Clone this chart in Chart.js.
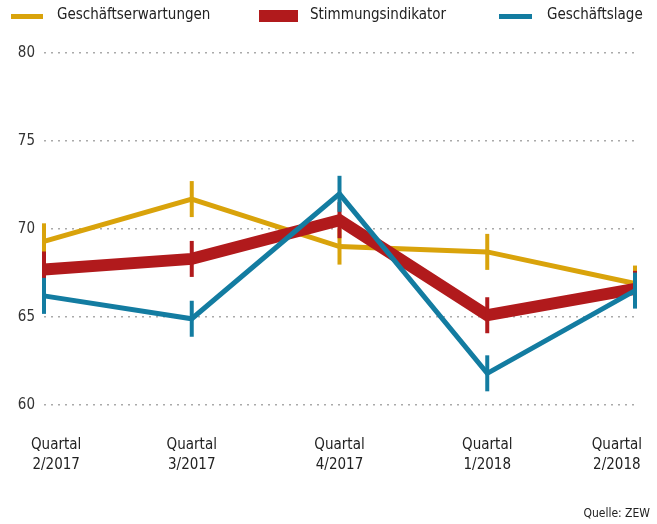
<!DOCTYPE html>
<html>
<head>
<meta charset="utf-8">
<script src="https://cdn.jsdelivr.net/npm/chart.js@4.4.1/dist/chart.umd.min.js"></script>
<style>
  body { margin: 0; background: #fff; font-family: "Liberation Sans Narrow", "DejaVu Sans Condensed", sans-serif; color: #222; }
  #wrap { position: relative; width: 657px; height: 524px; }
  .sw { position: absolute; }
  .lt { position: absolute; top: 5px; font-size: 15px; line-height: 18px; white-space: nowrap; }
  #src { position: absolute; right: 7px; top: 506px; font-size: 12px; }
</style>
</head>
<body>
<div id="wrap">
  <canvas id="zewChart" width="657" height="524"></canvas>
  <div id="legend"></div>
  <div id="src">Quelle: ZEW</div>
</div>
<script>
const FONT = '"Liberation Sans Narrow", "DejaVu Sans Condensed", sans-serif';

// data
const quarters = ["2/2017", "3/2017", "4/2017", "1/2018", "2/2018"];
const erwartungen = [69.3, 71.7, 69.0, 68.7, 66.9];
const stimmung = [67.7, 68.3, 70.5, 65.1, 66.6];
const lage = [66.2, 64.9, 72.0, 61.8, 66.5];
const yTicks = [60, 65, 70, 75, 80];

const GOLD = "#d9a30b";
const RED = "#b11a1c";
const BLUE = "#137ca1";

// legend (drawn in html so the red swatch can be thicker)
const legendItems = [
  { text: "Geschäftserwartungen", color: GOLD, sx: 11, sw: 32, sy: 14, sh: 5, tx: 57 },
  { text: "Stimmungsindikator", color: RED, sx: 259, sw: 39, sy: 10, sh: 12, tx: 310 },
  { text: "Geschäftslage", color: BLUE, sx: 499, sw: 33, sy: 14, sh: 5, tx: 547 }
];
const legendEl = document.getElementById("legend");
legendItems.forEach(it => {
  const s = document.createElement("div");
  s.className = "sw";
  s.style.cssText = `left:${it.sx}px;top:${it.sy}px;width:${it.sw}px;height:${it.sh}px;background:${it.color}`;
  legendEl.appendChild(s);
  const t = document.createElement("div");
  t.className = "lt";
  t.style.left = it.tx + "px";
  t.textContent = it.text;
  legendEl.appendChild(t);
});

// x labels kept inside the picture at both ends
const xLabels = {
  id: "xLabels",
  afterDraw(chart) {
    const ctx = chart.ctx;
    const sx = chart.scales.x;
    const base = chart.chartArea.bottom + 44;
    ctx.save();
    ctx.font = "15px " + FONT;
    ctx.fillStyle = "#222";
    ctx.textAlign = "center";
    chart.data.labels.forEach((q, i) => {
      const lines = ["Quartal", q];
      const w = Math.max(...lines.map(l => ctx.measureText(l).width));
      let cx = sx.getPixelForValue(i);
      cx = Math.min(Math.max(cx, 31 + w / 2), 642 - w / 2);
      lines.forEach((l, j) => ctx.fillText(l, cx, base + j * 20));
    });
    ctx.restore();
  }
};

function ds(label, data, color, width) {
  return {
    label: label,
    data: data,
    borderColor: color,
    backgroundColor: color,
    borderWidth: width,
    tension: 0,
    pointStyle: "line",
    pointRotation: 90,
    pointRadius: 18,
    pointHoverRadius: 18,
    pointBorderWidth: 4,
    pointBorderColor: color,
    clip: false
  };
}

new Chart(document.getElementById("zewChart"), {
  type: "line",
  data: {
    labels: quarters,
    // first dataset is drawn on top
    datasets: [
      ds("Geschäftslage", lage, BLUE, 5),
      ds("Stimmungsindikator", stimmung, RED, 12),
      ds("Geschäftserwartungen", erwartungen, GOLD, 5)
    ]
  },
  options: {
    responsive: false,
    animation: false,
    layout: { padding: { top: 53, right: 17, left: 0, bottom: 0 } },
    plugins: {
      legend: { display: false },
      tooltip: { enabled: false }
    },
    scales: {
      x: {
        grid: { display: false },
        border: { display: false },
        ticks: { display: false },
        afterFit(scale) { scale.height = 119; }
      },
      y: {
        min: 60,
        max: 80,
        afterBuildTicks(scale) { scale.ticks = yTicks.map(v => ({ value: v })); },
        ticks: { font: { size: 15, family: FONT }, color: "#333", padding: 9 },
        grid: { color: "#aaa", lineWidth: 1.5, drawTicks: false },
        border: { display: false, dash: [2, 5] },
        afterFit(scale) { scale.width = 44; }
      }
    }
  },
  plugins: [xLabels]
});
</script>
</body>
</html>
